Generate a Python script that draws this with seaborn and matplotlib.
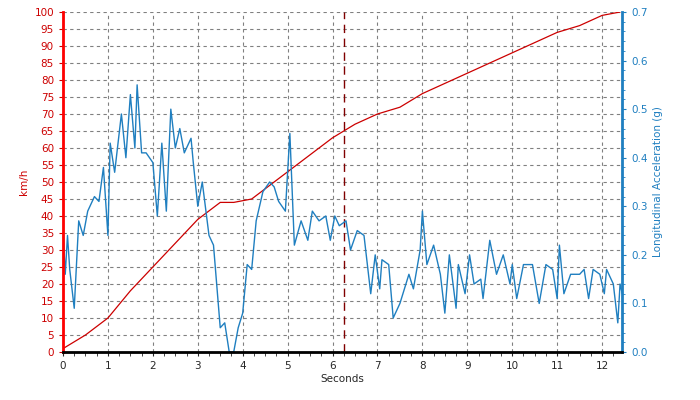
import matplotlib
matplotlib.use("Agg")
import matplotlib.pyplot as plt
import seaborn as sns
import numpy as np
from matplotlib.ticker import MultipleLocator

sns.set_style("white")
plt.rcParams['font.family'] = ['DejaVu Sans']

speed_t = [0, 0.5, 1, 1.5, 2, 2.5, 3, 3.5, 3.8, 4.2, 4.5, 5, 5.5, 6, 6.5, 7, 7.5, 8, 8.5, 9, 9.5, 10, 10.5, 11, 11.5, 12, 12.4]
speed_kmh = [1, 5, 10, 18, 25, 32, 39, 44, 44, 45, 48, 53, 58, 63, 67, 70, 72, 76, 79, 82, 85, 88, 91, 94, 96, 99, 100]

acc_t = [0, 0.05, 0.1, 0.15, 0.25, 0.35, 0.45, 0.55, 0.7, 0.8, 0.9, 1.0, 1.05, 1.15, 1.3, 1.4, 1.5, 1.6, 1.65, 1.75, 1.85, 2.0, 2.1,
         2.2, 2.3, 2.4, 2.5, 2.6, 2.7, 2.85, 2.9, 3.0, 3.1, 3.25, 3.35, 3.5, 3.6, 3.7, 3.8, 3.9, 4.0, 4.1, 4.2, 4.3, 4.45,
         4.6, 4.7, 4.8, 4.95, 5.05, 5.15, 5.3, 5.45, 5.55, 5.7, 5.85, 5.95, 6.05, 6.15, 6.3, 6.4, 6.55, 6.7, 6.85, 6.95,
         7.05, 7.1, 7.25, 7.35, 7.5, 7.7, 7.8, 7.95, 8.0, 8.1, 8.25, 8.4, 8.5, 8.6, 8.75, 8.8, 8.95, 9.05, 9.15, 9.3, 9.35,
         9.5, 9.65, 9.8, 9.95, 10.0, 10.1, 10.25, 10.45, 10.6, 10.75, 10.9, 11.0, 11.05, 11.15, 11.3, 11.5, 11.6, 11.7,
         11.8, 11.95, 12.05, 12.1, 12.25, 12.35, 12.4, 12.45]
acc_g = [0.25, 0.16, 0.24, 0.17, 0.09, 0.27, 0.24, 0.29, 0.32, 0.31, 0.38, 0.24, 0.43, 0.37, 0.49, 0.40, 0.53, 0.42, 0.55, 0.41, 0.41, 0.39, 0.28,
         0.43, 0.29, 0.50, 0.42, 0.46, 0.41, 0.44, 0.39, 0.30, 0.35, 0.24, 0.22, 0.05, 0.06, 0.0, 0.0, 0.05, 0.08, 0.18, 0.17, 0.27, 0.33,
         0.35, 0.34, 0.31, 0.29, 0.45, 0.22, 0.27, 0.23, 0.29, 0.27, 0.28, 0.23, 0.28, 0.26, 0.27, 0.21, 0.25, 0.24, 0.12, 0.20,
         0.13, 0.19, 0.18, 0.07, 0.10, 0.16, 0.13, 0.21, 0.29, 0.18, 0.22, 0.16, 0.08, 0.20, 0.09, 0.18, 0.12, 0.20, 0.14, 0.15, 0.11,
         0.23, 0.16, 0.20, 0.14, 0.18, 0.11, 0.18, 0.18, 0.10, 0.18, 0.17, 0.11, 0.22, 0.12, 0.16, 0.16, 0.17, 0.11,
         0.17, 0.16, 0.12, 0.17, 0.14, 0.06, 0.14, 0.12]

marker_t = 6.25

fig = plt.figure(figsize=(7, 4), dpi=100)
ax = fig.add_axes([0.09, 0.12, 0.799, 0.85])
ax2 = ax.twinx()

sns.lineplot(x=speed_t, y=speed_kmh, ax=ax, color="#cc0000", linewidth=0.9)
sns.lineplot(x=acc_t, y=acc_g, ax=ax2, color="#1f7fc0", linewidth=1.0)
ax.axvline(marker_t, color="#800000", linestyle=(0, (6, 4)), linewidth=1.0)

ax.set_xlim(0, 12.45)
ax.set_ylim(0, 100)
ax2.set_ylim(0, 0.7)
ax.xaxis.set_major_locator(MultipleLocator(1))
ax.xaxis.set_minor_locator(MultipleLocator(0.25))
ax.yaxis.set_major_locator(MultipleLocator(5))
ax2.yaxis.set_major_locator(MultipleLocator(0.1))
ax2.yaxis.set_minor_locator(MultipleLocator(0.02))
ax.grid(True, which="major", color="#808080", linestyle=(0, (3, 3)), linewidth=0.8)

for s in ["top", "right"]:
    ax.spines[s].set_visible(False)
ax2.spines["top"].set_visible(False)
ax2.spines["left"].set_color("#ff0000")
ax2.spines["left"].set_linewidth(2)
ax2.spines["right"].set_color("#1f7fc0")
ax2.spines["right"].set_linewidth(2)
ax2.spines["bottom"].set_color("black")
ax2.spines["bottom"].set_linewidth(2)

ax.tick_params(axis="y", colors="#cc0000", labelsize=7.5, length=3, direction="out", left=True)
ax.tick_params(axis="x", labelsize=7.5, length=3, bottom=True, which="both")
ax2.tick_params(axis="y", colors="#1f7fc0", labelsize=7.5, length=3, which="both", right=True)
ax2.tick_params(axis="y", which="minor", length=2)

ax.set_xlabel("Seconds", fontsize=7.5, labelpad=2)
ax.set_ylabel("km/h", fontsize=7.5, color="#cc0000")
ax2.set_ylabel("Longitudinal Acceleration (g)", fontsize=7.5, color="#1f7fc0")

fig.savefig("out.png", dpi=100)
